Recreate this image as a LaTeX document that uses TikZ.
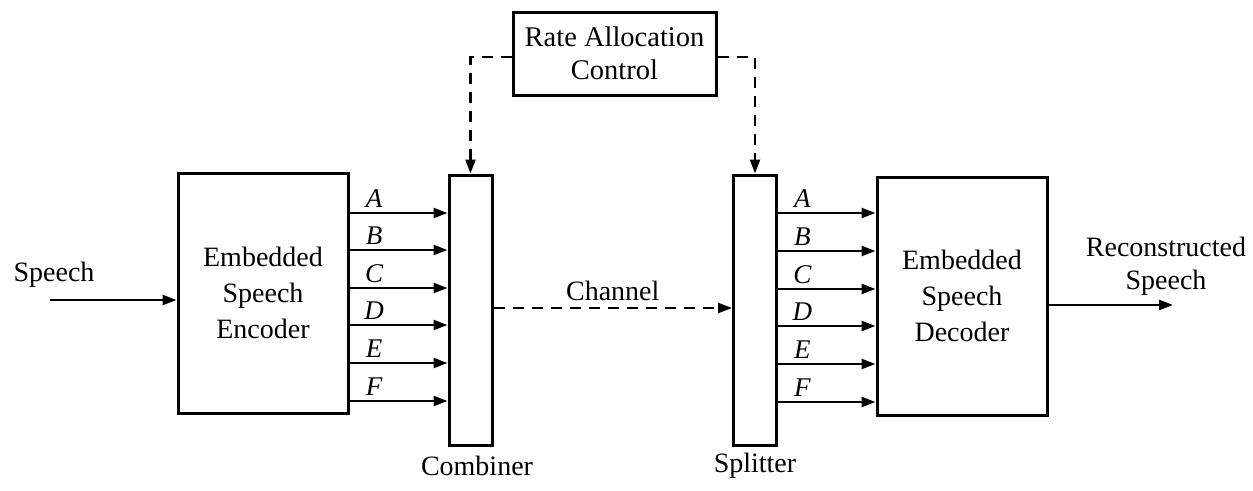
\documentclass[tikz,border=0pt]{standalone}
\usepackage{fontspec}
\setmainfont{Liberation Serif}
\usetikzlibrary{arrows.meta}
\begin{document}
\begin{tikzpicture}[x=1pt,y=-1pt,
  box/.style={draw,line width=3pt,minimum width=170pt,inner sep=0pt,align=center,font=\fontsize{28}{36}\selectfont},
  bar/.style={draw,line width=3pt,minimum width=43pt,minimum height=270pt,inner sep=0pt},
  arr/.style={line width=2.4pt,-{Triangle[length=14pt,width=10pt]}},
  darr/.style={line width=2.4pt,dash pattern=on 11pt off 8pt,-{Triangle[length=14pt,width=10pt]}},
  lbl/.style={font=\fontsize{28}{33}\selectfont,align=center,inner sep=0pt},
  sig/.style={font=\fontsize{27}{30}\selectfont\itshape,inner sep=0pt,above=4pt}]
\useasboundingbox (0,0) rectangle (1253,490);
\fill[white] (0,0) rectangle (1253,490);
\node[box,minimum height=240pt] (enc) at (263,293) {Embedded\\Speech\\Encoder};
\node[bar] (comb) at (470.5,310) {};
\node[bar] (split) at (755,310) {};
\node[box,minimum height=238pt] (dec) at (962,296) {Embedded\\Speech\\Decoder};
\node[box,minimum width=203pt,minimum height=83pt,font=\fontsize{28.5}{33}\selectfont] (rate) at (614.5,53.5) {Rate Allocation\\Control};
\foreach \l/\y in {A/213,B/250,C/288,D/325,E/363,F/401}{
  \draw[arr] (enc.east |- 0,\y) -- node[sig,pos=0.25]{\l} (comb.west |- 0,\y);
}
\foreach \l/\y in {A/213,B/251,C/289,D/326,E/364,F/402}{
  \draw[arr] (split.east |- 0,\y) -- node[sig,pos=0.25]{\l} (dec.west |- 0,\y);
}
\coordinate (sin) at (50,300);
\coordinate (sout) at (1173,305);
\node[lbl] (speechin) at (54,275) {Speech};
\node[lbl] (speechout) at (1166,266) {Reconstructed\\Speech};
\draw[arr] (sin) -- (enc.west |- sin);
\draw[arr] (dec.east |- sout) -- (sout);
\draw[darr] (comb.east |- 0,308) -- node[lbl,above=6pt]{Channel} (split.west |- 0,308);
\draw[darr] (rate.west |- 0,57) -| (comb.north);
\draw[darr] (rate.east |- 0,57) -| (split.north);
\node[lbl] (combl) at (477,466) {Combiner};
\node[lbl] (splitl) at (755,466) {Splitter};
\end{tikzpicture}
\end{document}
